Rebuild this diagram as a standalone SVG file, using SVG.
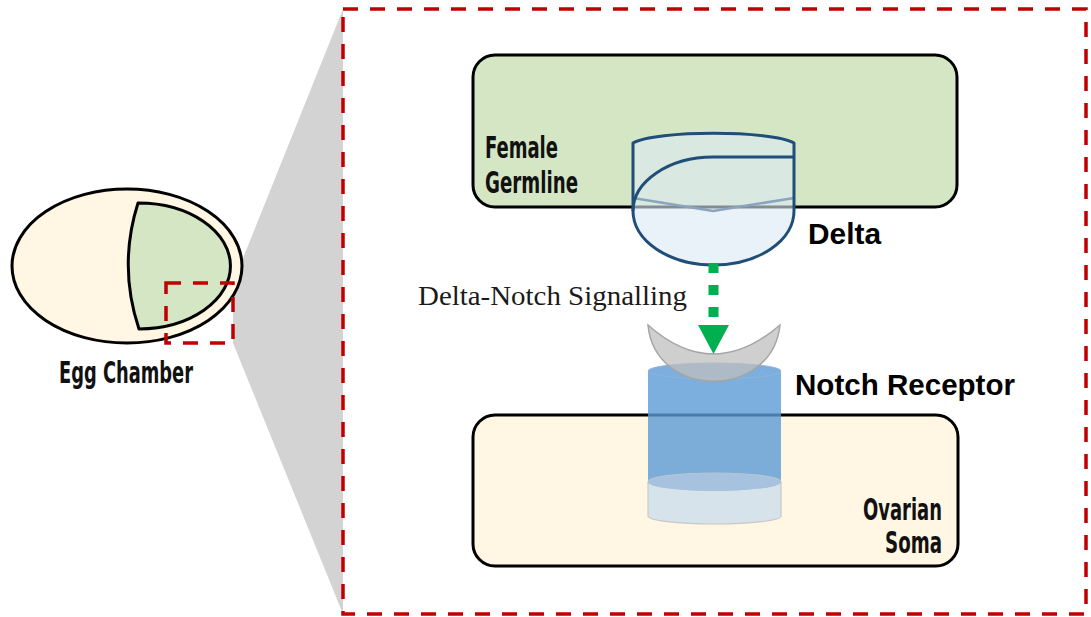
<svg xmlns="http://www.w3.org/2000/svg" width="1091" height="617" viewBox="0 0 1091 617">
  <style>
    .cond { font-family: "Liberation Sans Narrow", "DejaVu Sans Condensed", "Liberation Sans", sans-serif; font-weight: bold; font-stretch: condensed; fill: #111; }
    .calib { font-family: "Liberation Sans", "Open Sans", sans-serif; font-weight: bold; fill: #000; }
    .serif { font-family: "Liberation Serif", "DejaVu Serif", serif; fill: #1a1a1a; }
    .box { stroke: #000; stroke-width: 3; }
    .redDash { fill: none; stroke: #c00000; stroke-width: 3.5; stroke-dasharray: 15 12; }
    .delta-line { fill: none; stroke: #1f4e79; stroke-width: 3; stroke-linejoin: round; }
  </style>

  <!-- zoom wedge from the small inset to the enlarged view -->
  <g id="zoom-wedge">
    <polygon points="343,9 233,283 233,343 343,614" fill="#d3d3d3"/>
  </g>

  <!-- whole egg chamber -->
  <g id="egg-chamber">
    <ellipse cx="127" cy="266" rx="115" ry="77" fill="#fff6e3" stroke="#000" stroke-width="3"/>
    <path d="M138,203 A92,63 0 0 1 139,329 Q118,266 138,203 Z" fill="#d4e6c4" stroke="#000" stroke-width="3" stroke-linejoin="round"/>
    <rect x="166" y="283" width="67" height="60" class="redDash" stroke-width="3"/>
    <text x="59" y="383" class="cond" font-size="31" textLength="134" lengthAdjust="spacingAndGlyphs">Egg Chamber</text>
  </g>

  <!-- enlarged view frame -->
  <g id="zoom-frame">
    <rect x="343" y="9" width="743" height="605" class="redDash"/>
  </g>

  <!-- germline cell -->
  <g id="germline">
    <rect x="473" y="55" width="484" height="152" rx="22" fill="#d4e6c4" class="box"/>
    <text x="485" y="158" class="cond" font-size="29.5" textLength="73" lengthAdjust="spacingAndGlyphs">Female</text>
    <text x="485" y="193" class="cond" font-size="29.5" textLength="93" lengthAdjust="spacingAndGlyphs">Germline</text>
  </g>

  <!-- somatic cell -->
  <g id="soma">
    <rect x="473" y="415" width="485" height="151" rx="22" fill="#fff6e3" class="box"/>
    <text x="942" y="520" text-anchor="end" class="cond" font-size="29.5" textLength="79" lengthAdjust="spacingAndGlyphs">Ovarian</text>
    <text x="942" y="553" text-anchor="end" class="cond" font-size="29.5" textLength="57" lengthAdjust="spacingAndGlyphs">Soma</text>
  </g>

  <!-- Notch receptor: cylinder embedded in the soma membrane -->
  <g id="notch-receptor">
    <path d="M648,371 L648,482 A66.5,9 0 0 0 781,482 L781,371 A66.5,8 0 0 0 648,371 Z" fill="#5b9bd5" fill-opacity="0.8"/>
    <ellipse cx="714.5" cy="371" rx="66.5" ry="8" fill="none" stroke="#8fb4dc" stroke-width="1"/>
    <path d="M648,482 L648,516 A66.5,8 0 0 0 781,516 L781,482 A66.5,9 0 0 0 648,482 Z" fill="#bdd7ee" fill-opacity="0.6" stroke="#c8c8c8" stroke-width="1.2"/>
    <ellipse cx="714.5" cy="482" rx="66.5" ry="9" fill="#a7c2df"/>
    <!-- receiving cup -->
    <path d="M648,325 C655,400 772,400 780,325 Q713,383 648,325 Z" fill="#bfbfbf" fill-opacity="0.75" stroke="#a5a5a5" stroke-width="1.5"/>
    <text x="795" y="395" class="calib" font-size="29.5" textLength="220" lengthAdjust="spacingAndGlyphs">Notch Receptor</text>
  </g>

  <!-- Delta ligand on the germline membrane -->
  <g id="delta">
    <path d="M633,143 C655,130 772,130 794,143 L794,211 A80.5,54 0 0 1 633,211 Z" fill="#dce9f5" fill-opacity="0.6"/>
    <path d="M633,198 L713,211 L794,198" fill="none" stroke="#8aa4bd" stroke-width="2.5"/>
    <path d="M633,143 C655,130 772,130 794,143 L794,211 A80.5,54 0 0 1 633,211 Z" class="delta-line"/>
    <path d="M794,157 L713,157 A80.5,54 0 0 0 633,211" class="delta-line"/>
    <text x="808" y="244" class="calib" font-size="29.5" textLength="73" lengthAdjust="spacingAndGlyphs">Delta</text>
  </g>

  <!-- signalling connector -->
  <g id="connectors">
    <line x1="713.5" y1="263" x2="713.5" y2="318" stroke="#00b050" stroke-width="10" stroke-dasharray="10 12"/>
    <polygon points="698,325 729,325 713.5,354" fill="#00b050"/>
    <text x="418" y="305" class="serif" font-size="28" textLength="269" lengthAdjust="spacingAndGlyphs">Delta-Notch Signalling</text>
  </g>
</svg>
